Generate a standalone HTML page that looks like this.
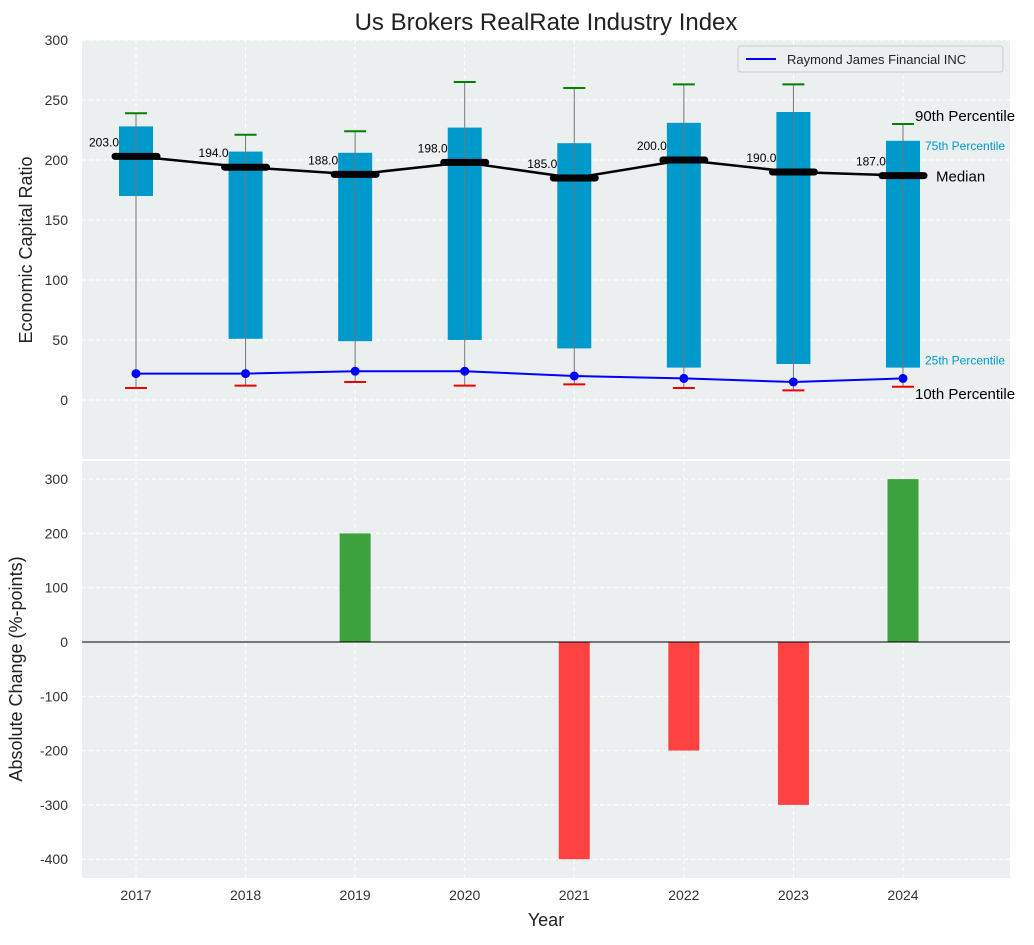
<!DOCTYPE html>
<html><head><meta charset="utf-8"><style>
body{margin:0;background:#fff;font-family:"Liberation Sans","DejaVu Sans",sans-serif}
svg text{font-family:"Liberation Sans","DejaVu Sans",sans-serif}
</style></head><body>
<svg id="chart" width="1034" height="940" xmlns="http://www.w3.org/2000/svg">
<text x="546" y="30" text-anchor="middle" font-size="24" fill="#222">Us Brokers RealRate Industry Index</text>
<g id="topPanel"></g>
<g id="botPanel"></g>
</svg>
<script>
const years=[2017,2018,2019,2020,2021,2022,2023,2024];
const p10=[10,12,15,12,13,10,8,11];
const q1=[170,51,49,50,43,27,30,27];
const med=[203,194,188,198,185,200,190,187];
const q3=[228,207,206,227,214,231,240,216];
const p90=[239,221,224,265,260,263,263,230];
const company=[22,22,24,24,20,18,15,18];
const change=[0,0,200,0,-400,-200,-300,300];
const topTicks=[0,50,100,150,200,250,300];
const botTicks=[-400,-300,-200,-100,0,100,200,300];

const NS="http://www.w3.org/2000/svg";
function el(p,t,a,txt){const e=document.createElementNS(NS,t);for(const k in a)e.setAttribute(k,a[k]);if(txt!==undefined)e.textContent=txt;p.appendChild(e);return e;}
const L=82,R=1010;
const X=y=>136+(y-2017)*109.57;
const Yt=v=>400-v*1.2;
const Yb=v=>642-v*0.543;
const topG=document.getElementById('topPanel'),botG=document.getElementById('botPanel');

let bg=el(topG,'rect',{x:L,y:40,width:R-L,height:419,fill:'#ebeff0'});


let bg2=el(botG,'rect',{x:L,y:461,width:R-L,height:417,fill:'#ebeff0'});



years.forEach(y=>{
  el(topG,'line',{x1:X(y),x2:X(y),y1:40,y2:459,stroke:'#fff','stroke-dasharray':'4,3'});
  el(botG,'line',{x1:X(y),x2:X(y),y1:461,y2:878,stroke:'#fff','stroke-dasharray':'4,3'});
  let t=el(botG,'text',{x:X(y),y:900,'text-anchor':'middle','font-size':14,fill:'#333'},y);
  
  
});
topTicks.forEach(v=>{
  el(topG,'line',{x1:L,x2:R,y1:Yt(v),y2:Yt(v),stroke:'#fff','stroke-dasharray':'4,3'});
  let t=el(topG,'text',{x:L-14,y:Yt(v)+5,'text-anchor':'end','font-size':14,fill:'#333'},v);
  
  
});
botTicks.forEach(v=>{
  el(botG,'line',{x1:L,x2:R,y1:Yb(v),y2:Yb(v),stroke:'#fff','stroke-dasharray':'4,3'});
  let t=el(botG,'text',{x:L-14,y:Yb(v)+5,'text-anchor':'end','font-size':14,fill:'#333'},v);
  
  
});

years.forEach((y,i)=>{
  const x=X(y);
  let b=el(topG,'rect',{x:x-17,y:Yt(q3[i]),width:34,height:Yt(q1[i])-Yt(q3[i]),fill:'#0099cc'});
  
  
  el(topG,'line',{x1:x,x2:x,y1:Yt(p90[i]),y2:Yt(p10[i]),stroke:'#777','stroke-width':1});
  el(topG,'line',{x1:x-11,x2:x+11,y1:Yt(p90[i]),y2:Yt(p90[i]),stroke:'#008000','stroke-width':2});
  el(topG,'line',{x1:x-11,x2:x+11,y1:Yt(p10[i]),y2:Yt(p10[i]),stroke:'#e00','stroke-width':2});
  let m=el(topG,'line',{x1:x-21,x2:x+21,y1:Yt(med[i]),y2:Yt(med[i]),stroke:'#000','stroke-width':7,'stroke-linecap':'round'});
  
  
  let t=el(topG,'text',{x:x-17,y:Yt(med[i])-10,'text-anchor':'end','font-size':12,fill:'#000'},med[i].toFixed(1));
  
  
});
let ml=el(topG,'polyline',{points:years.map((y,i)=>X(y)+','+Yt(med[i])).join(' '),fill:'none',stroke:'#000','stroke-width':2.5});


let cl=el(topG,'polyline',{points:years.map((y,i)=>X(y)+','+Yt(company[i])).join(' '),fill:'none',stroke:'#0000ff','stroke-width':2});


years.forEach((y,i)=>{
  let c=el(topG,'circle',{cx:X(y),cy:Yt(company[i]),r:4.5,fill:'#0000ff'});
  
  
});
const lx=X(years[years.length-1]);
const n=years.length-1;
[[lx+12,Yt(p90[n])-3,'90th Percentile',15,'#000'],[lx+22,Yt(q3[n])+9,'75th Percentile',12,'#0099cc'],
 [lx+33,Yt(med[n])+6,'Median',15,'#000'],[lx+22,Yt(q1[n])-3,'25th Percentile',12,'#0099cc'],
 [lx+12,Yt(p10[n])+12,'10th Percentile',15,'#000']].forEach(a=>{
  let t=el(topG,'text',{x:a[0],y:a[1],'font-size':a[3],fill:a[4]},a[2]);
  
  
});
let lg=el(topG,'g',{});


el(lg,'rect',{x:738,y:46,width:265,height:26,rx:3,fill:'#ebeff0',stroke:'#ccc'});
el(lg,'line',{x1:746,x2:776,y1:59,y2:59,stroke:'#0000ff','stroke-width':2});
el(lg,'text',{x:787,y:64,'font-size':13,fill:'#222'},'Raymond James Financial INC');

years.forEach((y,i)=>{
  if(!change[i])return;
  const v=change[i];
  let b=el(botG,'rect',{x:X(y)-15.5,y:Math.min(Yb(v),Yb(0)),width:31,height:Math.abs(Yb(v)-Yb(0)),fill:v>0?'#2e9a2e':'#ff3333','fill-opacity':0.92});
  
  
});
el(botG,'line',{x1:L,x2:R,y1:Yb(0),y2:Yb(0),stroke:'#000','stroke-width':1});

let y1=el(topG,'text',{x:32,y:250,'text-anchor':'middle','font-size':18,fill:'#222',transform:'rotate(-90 32 250)'},'Economic Capital Ratio');


let y2=el(botG,'text',{x:22,y:669,'text-anchor':'middle','font-size':18,fill:'#222',transform:'rotate(-90 22 669)'},'Absolute Change (%-points)');


let xt=el(botG,'text',{x:546,y:926,'text-anchor':'middle','font-size':18,fill:'#222'},'Year');


</script>
</body></html>
